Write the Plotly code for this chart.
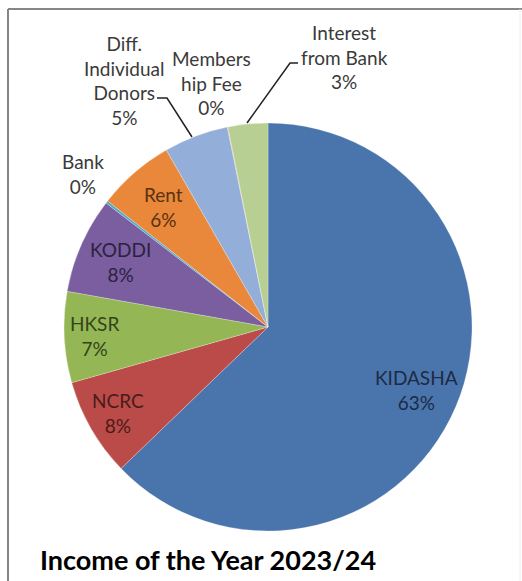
import plotly.graph_objects as go
import math

# ---- data ----
categories = ["KIDASHA", "NCRC", "HKSR", "KODDI", "Bank", "Rent",
              "Diff.<br>Individual<br>Donors", "Members<br>hip Fee", "Interest<br>from Bank"]
values = [62.8, 7.8, 7.2, 7.6, 0.2, 6.1, 5.1, 0.05, 3.15]
colors = ["#4A75AC", "#BA4B48", "#95B655", "#7A5EA0", "#4BACC6", "#E9873A",
          "#93AED8", "#D99694", "#B8CF94"]
title_text = "Income of the Year 2023/24"

W, H = 522, 581
CX, CY, R = 268, 327, 204

def px(x):
    return x / W

def py(y):
    return 1 - y / H

total = sum(values)
pcts = [round(v / total * 100) for v in values]

fig = go.Figure()
fig.add_trace(go.Pie(
    labels=[c.replace("<br>", " ") for c in categories],
    values=values,
    sort=False,
    direction="clockwise",
    rotation=0,
    marker=dict(colors=colors, line=dict(color="rgba(255,255,255,0.5)", width=0.5)),
    textinfo="none",
    hoverinfo="label+percent",
    showlegend=False,
    domain=dict(x=[px(CX - R), px(CX + R)], y=[py(CY + R), py(CY - R)]),
))

# inside labels: placed along each slice's mid-angle
inside_style = {
    0: dict(r=0.79, color="#1C2B45"),
    1: dict(r=0.85, color="#4A1B1A"),
    2: dict(r=0.85, color="#33441C"),
    3: dict(r=0.79, color="#2B2240"),
    5: dict(r=0.78, color="#5A3212"),
}
# outside labels: pixel centres of the label blocks
outside_pos = {
    4: (83, 174),
    6: (124, 80),
    7: (211, 83),
    8: (344, 57),
}

annotations = []
cum = 0.0
for i, v in enumerate(values):
    mid = (cum + v / 2) / total * 2 * math.pi
    cum += v
    text = f"{categories[i]}<br>{pcts[i]}%"
    if i in inside_style:
        st = inside_style[i]
        x = CX + st["r"] * R * math.sin(mid)
        y = CY - st["r"] * R * math.cos(mid)
        col = st["color"]
    else:
        x, y = outside_pos[i]
        col = "#3A3A3A"
    annotations.append(dict(
        x=px(x), y=py(y), xref="paper", yref="paper",
        text=text, showarrow=False, xanchor="center", yanchor="middle",
        font=dict(family="Lato", size=19, color=col), align="center",
    ))

annotations.append(dict(
    x=px(38), y=py(559), xref="paper", yref="paper", text=f"<b>{title_text}</b>",
    showarrow=False, xanchor="left", yanchor="middle",
    font=dict(family="Lato", size=27, color="#000000"),
))

shapes = [
    # chart frame
    dict(type="line", xref="paper", yref="paper", x0=px(8), y0=py(9), x1=px(530), y1=py(9),
         line=dict(color="#868686", width=2)),
    dict(type="line", xref="paper", yref="paper", x0=px(8), y0=py(9), x1=px(8), y1=py(590),
         line=dict(color="#868686", width=2)),
    dict(type="line", xref="paper", yref="paper", x0=px(520), y0=py(9), x1=px(520), y1=py(590),
         line=dict(color="#EEEEEE", width=1)),
    # leader lines
    dict(type="path", xref="paper", yref="paper",
         path=f"M {px(157)},{py(98)} L {px(167)},{py(98)} L {px(192)},{py(137)}",
         line=dict(color="#222222", width=1.5)),
    dict(type="path", xref="paper", yref="paper",
         path=f"M {px(298)},{py(63)} L {px(290)},{py(63)} L {px(247)},{py(123)}",
         line=dict(color="#222222", width=1.5)),
]

fig.update_layout(
    width=W, height=H,
    margin=dict(l=0, r=0, t=0, b=0),
    paper_bgcolor="white", plot_bgcolor="white",
    annotations=annotations, shapes=shapes,
)

fig.write_html("out.html")
